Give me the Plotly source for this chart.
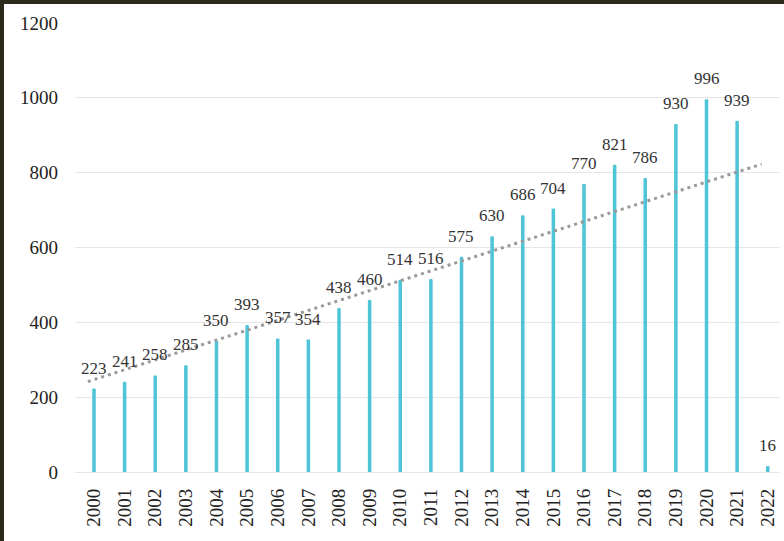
import numpy as np
import plotly.graph_objects as go

years = [str(y) for y in range(2000, 2023)]
counts = [223, 241, 258, 285, 350, 393, 357, 354, 438, 460, 514, 516, 575,
          630, 686, 704, 770, 821, 786, 930, 996, 939, 16]
y_ticks = [0, 200, 400, 600, 800, 1000, 1200]

xi = np.arange(len(years))
slope, intercept = np.polyfit(xi, counts, 1)
trend_x = np.array([xi[0], xi[-1]], dtype=float) - 0.2
trend_y = intercept + slope * (trend_x + 0.2)

FONT = "Liberation Serif"
BAR = "#4fc4d6"

fig = go.Figure()
fig.add_trace(go.Bar(x=xi, y=counts, width=0.115, marker=dict(color=BAR, line=dict(width=0)),
                     hoverinfo="skip"))
fig.add_trace(go.Scatter(x=trend_x, y=trend_y, mode="lines",
                         line=dict(color="#9a9a9a", width=3, dash="3px,4px"), hoverinfo="skip"))

for i, v in enumerate(counts):
    fig.add_annotation(x=i, y=v, text=str(v), showarrow=False, yanchor="bottom",
                       yshift=9, font=dict(family=FONT, size=17, color="#333333"))

fig.update_layout(
    width=784, height=541,
    margin=dict(l=75, r=4, t=23, b=69),
    paper_bgcolor="#2b2a1c", plot_bgcolor="white",
    showlegend=False, barcornerradius=2,
    xaxis=dict(range=[-0.62, 22.4], tickvals=list(xi), ticktext=years, tickangle=-90,
               showgrid=False, zeroline=False, showline=False, ticks="",
               ticklabelstandoff=12,
               tickfont=dict(family=FONT, size=19, color="#222222")),
    yaxis=dict(range=[0, 1200], tickvals=y_ticks, showgrid=True, gridcolor="#e6e6ea",
               gridwidth=1, zeroline=True, zerolinecolor="#e6e6ea", zerolinewidth=1,
               showline=False, ticks="", ticklabelstandoff=16,
               tickfont=dict(family=FONT, size=19, color="#222222")),
)

# white panel over the dark textured background
fig.add_shape(type="rect", xref="paper", yref="paper",
              x0=-(75 - 4) / 705, x1=1 + 4 / 705, y0=-69 / 449, y1=1 + (23 - 4) / 449,
              fillcolor="white", line=dict(width=0), layer="below")

fig.write_html("out.html")
